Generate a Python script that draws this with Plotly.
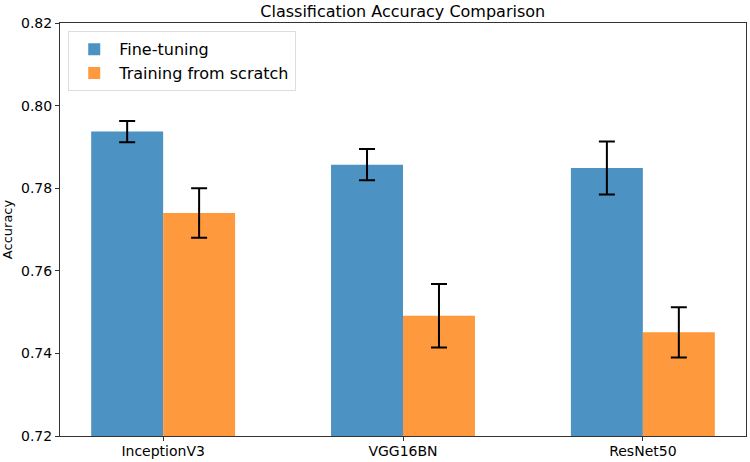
import plotly.graph_objects as go

models = ["InceptionV3", "VGG16BN", "ResNet50"]
finetune_acc = [0.7937, 0.7857, 0.7849]
finetune_err = [0.0026, 0.0038, 0.0064]
scratch_acc = [0.7740, 0.7491, 0.7451]
scratch_err = [0.0060, 0.0077, 0.0061]

FONT = "DejaVu Sans"

fig = go.Figure()
fig.add_trace(go.Bar(
    x=models, y=finetune_acc, name="Fine-tuning",
    marker=dict(color="#4c92c3", line=dict(width=0)),
    error_y=dict(type="data", array=finetune_err, color="black", thickness=2, width=8),
))
fig.add_trace(go.Bar(
    x=models, y=scratch_acc, name="Training from scratch",
    marker=dict(color="#ff993e", line=dict(width=0)),
    error_y=dict(type="data", array=scratch_err, color="black", thickness=2, width=8),
))

fig.update_layout(
    width=750, height=462,
    barmode="group", bargap=0.4, bargroupgap=0,
    plot_bgcolor="white", paper_bgcolor="white",
    margin=dict(l=60, r=4, t=23, b=26, autoexpand=False),
    font=dict(family=FONT, size=14, color="black"),
    title=dict(text="Classification Accuracy Comparison", x=0.537, xanchor="center",
               y=0.975, yanchor="middle", font=dict(size=16)),
    legend=dict(x=0.012, y=0.98, xanchor="left", yanchor="top",
                bordercolor="#dddddd", borderwidth=1, bgcolor="rgba(255,255,255,0.8)",
                font=dict(size=16), itemwidth=40, tracegroupgap=0),
    showlegend=True,
)
fig.update_xaxes(
    range=[-0.43, 2.43], showline=True, mirror=True, linecolor="#333333", linewidth=1,
    ticks="outside", ticklen=4, tickcolor="#333333", showgrid=False,
    automargin=False, ticklabelstandoff=-2,
)
fig.update_yaxes(
    range=[0.72, 0.82], dtick=0.02, tickformat=".2f",
    showline=True, mirror=True, linecolor="#333333", linewidth=1,
    ticks="outside", ticklen=4, tickcolor="#333333", showgrid=False, zeroline=False,
    automargin=False,
    title=dict(text="Accuracy", font=dict(size=13), standoff=6),
)

# drop the default 8px page margin so the figure sits at the window corner
fig.write_html("out.html", config={"displayModeBar": False},
               post_script="document.body.style.margin='0';")
